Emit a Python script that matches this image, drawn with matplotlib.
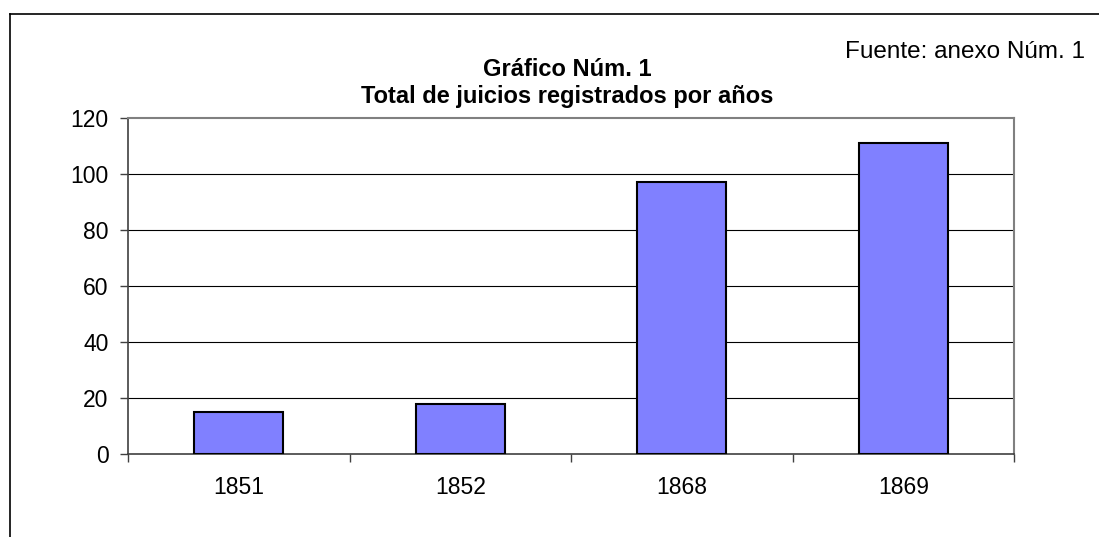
import matplotlib
matplotlib.use("Agg")
import matplotlib.pyplot as plt
from matplotlib.lines import Line2D

years = ["1851", "1852", "1868", "1869"]
juicios = [15, 18, 97, 111]
yticks = [0, 20, 40, 60, 80, 100, 120]

plt.rcParams['font.family'] = ['Liberation Sans', 'DejaVu Sans']

fig = plt.figure(figsize=(10.99, 5.37), dpi=100)
ax = fig.add_axes([128/1099, 1-454/537, (1014-128)/1099, (454-118)/537])

x = list(range(len(years)))
ax.bar(x, juicios, width=0.4, color='#8080FF', edgecolor='black', linewidth=1.5, zorder=3)
ax.set_xlim(-0.5, len(years)-0.5)
ax.set_ylim(0, 120)
ax.set_yticks(yticks)
ax.set_yticklabels([str(v) for v in yticks], fontsize=16.5)
ax.set_xticks(x)
ax.set_xticklabels(years, fontsize=16.5)
ax.tick_params(axis='x', length=0, pad=16)
ax.tick_params(axis='y', length=6, width=1, color='#404040', pad=8)
ax.set_xticks([i - 0.5 for i in range(len(years)+1)], minor=True)
ax.tick_params(axis='x', which='minor', length=6, width=1, color='#404040')
for v in yticks[1:-1]:
    ax.axhline(v, color='black', linewidth=0.8, zorder=1)
for s in ['top', 'right']:
    ax.spines[s].set_color('#808080')
    ax.spines[s].set_linewidth(1.5)
for s in ['left', 'bottom']:
    ax.spines[s].set_color('#404040')
    ax.spines[s].set_linewidth(1.2)

fig.text(567/1099, 1-70/537, "Gráfico Núm. 1", ha='center', va='center', fontsize=17, fontweight='bold')
fig.text(567/1099, 1-96/537, "Total de juicios registrados por años", ha='center', va='center', fontsize=17, fontweight='bold')
fig.text(1085/1099, 1-52/537, "Fuente: anexo Núm. 1", ha='right', va='center', fontsize=17.5)

fig.add_artist(Line2D([9.5/1099, 9.5/1099], [0, 1-13.5/537], transform=fig.transFigure, color='black', linewidth=1.2))
fig.add_artist(Line2D([9.5/1099, 1], [1-13.5/537, 1-13.5/537], transform=fig.transFigure, color='black', linewidth=1.2))

fig.savefig("out.png", dpi=100)
